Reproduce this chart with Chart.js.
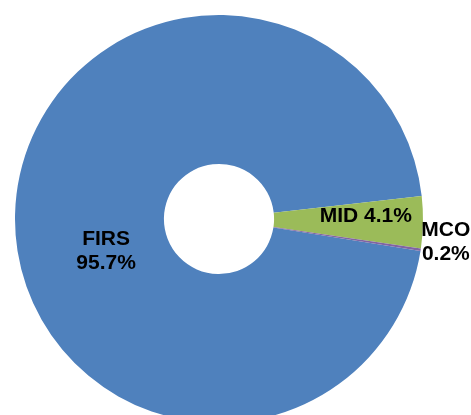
<!DOCTYPE html>
<html>
<head>
<meta charset="utf-8">
<script src="https://cdn.jsdelivr.net/npm/chart.js@4.4.1/dist/chart.umd.min.js"></script>
<style>
  html, body { margin: 0; padding: 0; background: #fff; overflow: hidden; }
  #wrap { position: relative; width: 471px; height: 438px; }
</style>
</head>
<body>
<div id="wrap"><canvas id="chart"></canvas></div>
<script>
const categories = ['FIRS', 'MID', 'MCO'];
const shares = [95.7, 4.1, 0.2];
const sliceColors = ['#4F81BD', '#9BBB59', '#8064A2'];

// label placement: fraction of outer radius, angle offset (deg) from slice middle, split into two lines?
const labelPlace = [
    { frac: 0.575, dAngle: -17, twoLines: true },
    { frac: 0.72, dAngle: -2, twoLines: false },
    { frac: 1.118, dAngle: -2.7, twoLines: true }
];

const sliceLabels = {
    id: 'sliceLabels',
    afterDatasetsDraw(chart) {
        const ctx = chart.ctx;
        const meta = chart.getDatasetMeta(0);
        ctx.save();
        ctx.font = 'bold 21px "Liberation Sans", Arial, sans-serif';
        ctx.fillStyle = '#000';
        ctx.textAlign = 'center';
        ctx.textBaseline = 'middle';
        meta.data.forEach((arc, i) => {
            const p = arc.getProps(['x', 'y', 'startAngle', 'endAngle', 'outerRadius'], true);
            const place = labelPlace[i];
            const a = (p.startAngle + p.endAngle) / 2 + place.dAngle * Math.PI / 180;
            const r = p.outerRadius * place.frac;
            const cx = p.x + Math.cos(a) * r;
            const cy = p.y + Math.sin(a) * r;
            const pct = shares[i].toFixed(1) + '%';
            if (place.twoLines) {
                ctx.fillText(categories[i], cx, cy - 12);
                ctx.fillText(pct, cx, cy + 12);
            } else {
                ctx.fillText(categories[i] + ' ' + pct, cx, cy);
            }
        });
        ctx.restore();
    }
};

new Chart(document.getElementById('chart'), {
    type: 'doughnut',
    data: {
        labels: categories,
        datasets: [{
            data: shares,
            backgroundColor: sliceColors,
            borderWidth: 0
        }]
    },
    options: {
        responsive: true,
        maintainAspectRatio: false,
        animation: false,
        cutout: '27%',
        rotation: 99,
        layout: { padding: { left: 15, right: 48, top: 15, bottom: 15 } },
        plugins: {
            legend: { display: false },
            tooltip: { enabled: false }
        }
    },
    plugins: [sliceLabels]
});
</script>
</body>
</html>
